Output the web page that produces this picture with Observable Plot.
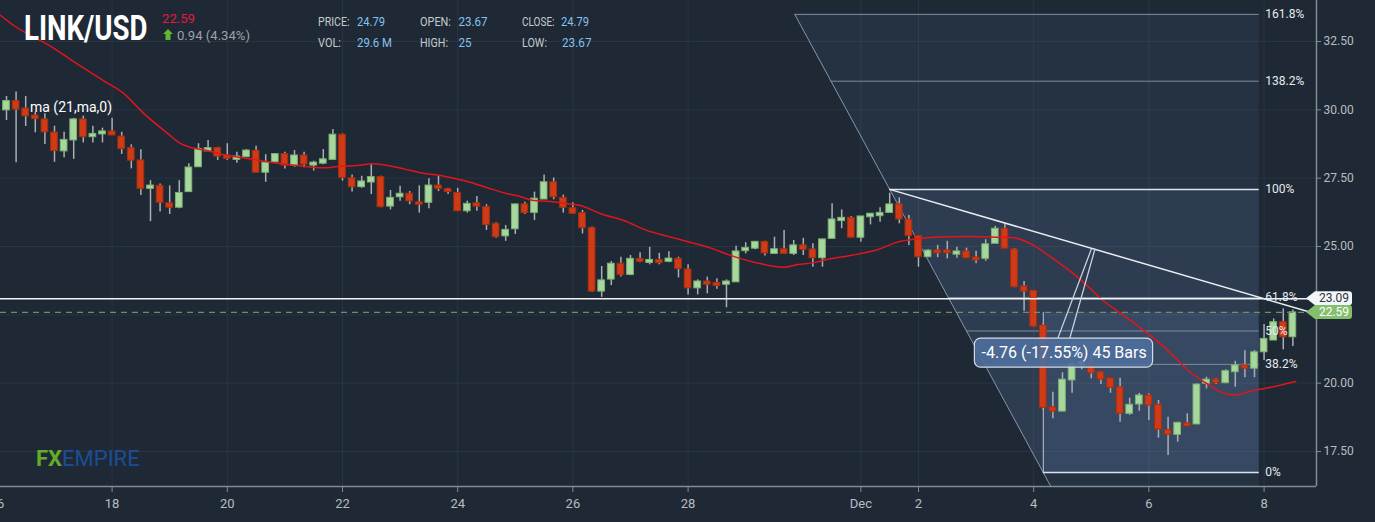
<!DOCTYPE html>
<html>
<head>
<meta charset="utf-8">
<script src="https://cdn.jsdelivr.net/npm/d3@7"></script>
<script src="https://cdn.jsdelivr.net/npm/@observablehq/plot@0.6"></script>
<style>
  html, body { margin:0; padding:0; background:#1e2935; }
  #chart { width:1375px; height:522px; overflow:hidden; }
  svg { display:block; }
</style>
</head>
<body>
<div id="chart"></div>
<script>
// ---------- DATA (4-hour candles, LINK/USD) ----------
const firstBarUTC = Date.UTC(2021, 10, 16, 4); // Nov 16, 04:00
const barHours = 4;

const opens = [29.98,30.32,30.05,29.79,29.65,29.17,28.48,28.88,29.65,29.00,
29.10,29.21,29.02,28.60,28.15,27.11,27.22,26.58,26.42,26.99,
27.90,28.48,28.60,28.33,28.17,28.27,28.50,27.70,28.08,28.38,
27.96,28.33,27.96,28.03,28.17,29.09,27.50,27.17,27.34,27.54,
26.46,26.80,26.93,26.62,26.60,27.23,27.10,26.96,26.29,26.58,
26.44,25.83,25.37,25.63,26.54,26.23,26.72,27.35,26.78,26.40,
26.22,25.68,23.35,23.79,24.37,23.96,24.55,24.40,24.51,24.44,
24.55,24.16,23.47,23.72,23.67,23.60,23.69,24.83,24.92,25.17,
24.73,24.90,24.73,25.04,24.89,24.57,25.28,25.93,26.05,25.32,
26.07,26.11,26.23,26.54,25.98,25.38,24.61,24.86,24.86,24.70,
24.82,24.60,24.55,25.10,25.65,24.89,23.54,23.38,22.11,19.12,
18.96,20.10,20.65,20.74,20.40,20.18,19.85,18.88,19.22,19.55,
19.21,18.29,18.11,18.53,18.49,19.98,20.13,20.00,20.40,20.65,
20.53,21.13,21.56,22.23,21.68];
const highs = [30.49,30.65,30.49,29.91,29.86,29.40,29.18,29.69,29.77,29.40,
29.33,29.69,29.18,28.72,28.54,27.41,27.29,27.22,27.41,28.03,
28.76,28.88,28.63,28.76,28.45,28.55,28.67,28.36,28.40,28.45,
28.51,28.45,28.12,28.55,29.28,29.12,27.62,27.57,27.99,27.57,
27.05,27.20,27.01,27.22,27.48,27.57,27.13,27.13,26.66,26.83,
26.53,25.87,25.77,26.56,26.62,26.99,27.62,27.51,26.88,26.60,
26.32,25.71,24.27,24.45,24.61,24.67,24.77,24.97,24.75,24.81,
24.61,24.33,23.78,23.88,23.82,23.78,25.01,25.14,25.19,25.19,
25.34,25.59,25.22,25.30,25.10,25.26,26.56,26.34,26.10,26.10,
26.20,26.42,26.95,26.78,26.13,25.40,24.89,25.04,25.19,24.97,
24.94,24.83,25.25,25.74,25.83,24.92,23.72,23.38,22.18,19.67,
20.38,20.77,20.83,20.98,20.43,20.18,20.18,19.45,19.63,19.61,
19.37,18.75,18.57,18.88,19.98,20.22,20.16,20.49,20.80,21.19,
21.19,22.15,22.35,22.72,22.68];
const lows = [29.61,28.06,29.39,29.16,28.73,28.08,28.25,28.19,28.79,28.79,
28.79,29.06,28.37,27.84,26.87,25.91,26.26,26.17,26.38,26.99,
27.90,28.48,28.15,28.15,28.05,28.25,27.70,27.35,28.06,27.84,
27.90,27.88,27.76,27.99,28.17,27.39,26.99,27.13,26.90,26.42,
26.34,26.66,26.53,26.22,26.38,27.01,26.90,26.28,26.22,26.29,
25.59,25.30,25.19,25.44,26.17,25.95,26.72,26.71,26.22,26.17,
25.46,23.32,23.14,23.57,23.88,23.93,24.41,24.33,24.33,24.41,
23.85,23.23,23.23,23.27,23.44,22.76,23.69,24.73,24.88,24.65,
24.73,24.73,24.67,24.67,24.24,24.24,25.28,25.65,25.32,25.16,
25.79,25.89,26.23,25.83,25.04,24.24,24.59,24.59,24.55,24.57,
24.57,24.37,24.46,25.10,24.92,23.49,22.63,22.05,19.00,18.70,
18.96,19.63,20.49,20.16,19.95,19.63,18.57,18.82,18.97,18.63,
17.99,17.35,17.84,18.42,18.49,19.79,19.95,19.98,19.85,20.20,
20.20,20.83,21.56,21.22,21.34];
const closes = [30.32,30.01,29.76,29.66,29.18,28.49,28.90,29.65,29.00,29.12,
29.21,29.06,28.57,28.14,27.11,27.23,26.60,26.42,26.96,27.89,
28.57,28.60,28.29,28.21,28.29,28.51,27.70,28.07,28.38,27.96,
28.33,28.00,28.07,28.19,29.09,27.51,27.17,27.38,27.54,26.44,
26.78,26.93,26.65,26.53,27.23,27.11,26.99,26.29,26.56,26.46,
25.79,25.34,25.61,26.54,26.22,26.75,27.35,26.80,26.42,26.20,
25.67,23.35,23.76,24.37,23.96,24.55,24.44,24.51,24.39,24.56,
24.18,23.47,23.72,23.60,23.56,23.72,24.82,24.95,25.17,24.75,
24.90,24.73,25.04,24.88,24.57,25.26,25.99,26.05,25.32,26.10,
26.20,26.23,26.54,25.99,25.38,24.61,24.85,24.75,24.75,24.82,
24.57,24.49,25.08,25.65,24.92,23.51,23.35,22.07,19.10,18.96,
20.13,20.71,20.77,20.36,20.13,19.83,18.88,19.21,19.55,19.18,
18.30,18.11,18.55,18.42,19.95,20.13,20.00,20.44,20.65,20.53,
21.13,21.62,22.23,21.68,22.59];

// 21-period moving average (bar position, value)
const maBars = [-0.6,0.5,4.9,6.8,10.1,12.2,14.3,16.8,18.1,19.2,20.9,23.0,24.4,26.8,30.3,33.0,34.8,36.5,38.1,39.7,
41.4,43.1,45.2,48.3,50.4,52.2,53.5,54.9,56.7,58.1,59.8,61.9,64.3,66.7,68.8,70.9,73.3,75.8,78.2,81.0,
82.4,84.1,85.8,87.9,90.7,92.8,94.9,96.6,100.1,103.5,104.9,107.0,108.8,110.5,112.2,114.0,117.1,120.6,123.3,125.4,
126.8,128.0,129.6,131.7,134.3];
const maValues = [33.45,33.15,32.26,31.81,31.07,30.60,29.87,29.13,28.77,28.62,28.51,28.33,28.26,28.12,27.96,27.88,27.94,27.96,28.03,27.96,
27.84,27.70,27.60,27.35,27.11,26.93,26.83,26.68,26.65,26.58,26.50,26.20,25.95,25.59,25.38,25.18,24.95,24.63,24.40,24.24,
24.34,24.41,24.55,24.67,24.88,25.16,25.28,25.34,25.37,25.34,25.32,25.04,24.61,24.18,23.69,23.09,22.29,21.32,20.40,19.91,
19.63,19.57,19.71,19.85,20.06];

// axis ticks
const xTickDates = ["2021-11-16","2021-11-18","2021-11-20","2021-11-22","2021-11-24","2021-11-26","2021-11-28",
                    "2021-12-01","2021-12-02","2021-12-04","2021-12-06","2021-12-08"];
const yTickValues = [17.5, 20, 25, 27.5, 30, 32.5];
const yGridValues = [17.5, 20, 22.5, 25, 27.5, 30, 32.5];

// Fibonacci drawing (anchors)
const fibHighDate = "2021-12-01T12:00:00Z";
const fibHighPrice = 27.09;
const fibLowDate = "2021-12-04T04:00:00Z";
const fibLowPrice = 16.73;
const fibEndDate = "2021-12-07T22:00:00Z";
const fibRatios = [1.618, 1.382, 1, 0.618, 0.5, 0.382, 0];
const fibLabels = ["161.8%", "138.2%", "100%", "61.8%", "50%", "38.2%", "0%"];

// horizontal lines / price tags
const levelPrice = 23.09;
const lastPrice = 22.59;
const trendEndPrice = 22.53;

// measurement callout
const measureText = "-4.76 (-17.55%) 45 Bars";
const measureBox = {x1: "2021-12-02T23:30:00Z", x2: "2021-12-06T01:45:00Z", y1: 20.57, y2: 21.63};
const measureTextPos = {x: "2021-12-04T12:40:00Z", y: 21.12};
const measureTail = [
  [{x: "2021-12-04T10:00:00Z", y: 21.63}, {x: "2021-12-05T00:00:00Z", y: 24.90}],
  [{x: "2021-12-04T15:00:00Z", y: 21.63}, {x: "2021-12-05T01:30:00Z", y: 24.90}]
];

// ---------- BUILD ----------
const HOUR = 3600e3;
const barDate = i => new Date(firstBarUTC + i * barHours * HOUR);
const xDomain = [barDate(-0.625), barDate(136.46)];
const yDomain = [16.22, 34.0];

const bars = opens.map((o, i) => ({
  date: barDate(i), open: o, high: highs[i], low: lows[i], close: closes[i], up: closes[i] >= o
}));
const halfBody = 1.4 * HOUR;
const maData = maBars.map((b, i) => ({date: barDate(b), value: maValues[i]}));

const tA = new Date(fibHighDate), tB = new Date(fibLowDate), tEnd = new Date(fibEndDate);
const fibRange = fibHighPrice - fibLowPrice;
const diagDate = p => new Date(+tA + (fibHighPrice - p) / fibRange * (tB - tA));
const fibRows = fibRatios.map((r, i) => ({ratio: r, label: fibLabels[i], price: fibLowPrice + r * fibRange}));
const pTop = fibRows[0].price;

const region1 = [
  {x: diagDate(pTop), y1: pTop, y2: pTop},
  {x: diagDate(yDomain[0]), y1: yDomain[0], y2: pTop},
  {x: tEnd, y1: yDomain[0], y2: pTop}
];
const region2 = [
  {x: tA, y1: fibHighPrice, y2: fibHighPrice},
  {x: tB, y1: fibLowPrice, y2: fibHighPrice},
  {x: tEnd, y1: fibLowPrice, y2: fibHighPrice}
];
const diagLine = [{x: diagDate(pTop), y: pTop}, {x: diagDate(yDomain[0]), y: yDomain[0]}];
const trendLine = [{x: tA, y: fibHighPrice}, {x: xDomain[1], y: trendEndPrice}];

const GREEN = "#a7d79c", GREEN_S = "#7cb36f", RED = "#cf3b17", RED_S = "#a92d0d";
const AX = "#858b93", TXT = "#b9bdc2";

const plot = Plot.plot({
  width: 1375, height: 522,
  marginTop: 0, marginLeft: 0, marginRight: 59, marginBottom: 36,
  style: {background: "#1e2935", fontFamily: "Roboto, sans-serif", fontSize: "12px", overflow: "visible"},
  x: {type: "utc", domain: xDomain},
  y: {domain: yDomain},
  marks: [
    Plot.gridX({ticks: xTickDates.map(d => new Date(d)), stroke: "#283542", strokeOpacity: 1}),
    Plot.gridY({ticks: yGridValues, stroke: "#283542", strokeOpacity: 1}),
    // fib shading
    Plot.areaY(region1, {x: "x", y1: "y1", y2: "y2", fill: "#6a8cbc", fillOpacity: 0.10}),
    Plot.areaY(region2, {x: "x", y1: "y1", y2: "y2", fill: "#6a8cbc", fillOpacity: 0.12}),
    Plot.rect([{x1: tB, x2: tEnd, y1: fibLowPrice, y2: lastPrice}], {x1: "x1", x2: "x2", y1: "y1", y2: "y2", fill: "#7a9ccc", fillOpacity: 0.14}),
    Plot.line(diagLine, {x: "x", y: "y", stroke: "#8595a8", strokeWidth: 1}),
    Plot.ruleY(fibRows, {y: "price", x1: d => diagDate(d.price), x2: tEnd,
      stroke: d => (d.ratio === 1 || d.ratio === 0) ? "#dce3eb" : "#7d8ca0", strokeWidth: d => (d.ratio === 1 || d.ratio === 0) ? 1.5 : 1}),
    Plot.ruleX([tB], {y1: fibLowPrice, y2: lastPrice, stroke: "#b9c6d6", strokeWidth: 1}),
    // candles
    Plot.ruleX(bars, {x: "date", y1: "low", y2: "high", stroke: "#a9aeb4", strokeWidth: 1.5}),
    Plot.rect(bars, {
      x1: d => new Date(+d.date - halfBody), x2: d => new Date(+d.date + halfBody),
      y1: d => Math.min(d.open, d.close), y2: d => Math.max(d.open, d.close),
      fill: d => d.up ? GREEN : RED, stroke: d => d.up ? GREEN_S : RED_S, strokeWidth: 1
    }),
    // moving average
    Plot.line(maData, {x: "date", y: "value", stroke: "#e3141b", strokeWidth: 1.5, curve: "monotone-x"}),
    // horizontal lines
    Plot.ruleY([levelPrice], {stroke: "#f2f4f6", strokeWidth: 1.5}),
    Plot.ruleY([lastPrice], {stroke: "#6e8f6c", strokeWidth: 1.3, strokeDasharray: "6,5"}),
    // trend line
    Plot.line(trendLine, {x: "x", y: "y", stroke: "#e9edf1", strokeWidth: 1.5}),
    // measurement callout
    ...measureTail.map(seg => Plot.line(seg.map(p => ({x: new Date(p.x), y: p.y})), {x: "x", y: "y", stroke: "#c7d3e2", strokeWidth: 1.3})),
    Plot.rect([measureBox], {x1: d => new Date(d.x1), x2: d => new Date(d.x2), y1: "y1", y2: "y2",
      fill: "#4f6e9c", fillOpacity: 0.9, stroke: "#d3dbe6", strokeWidth: 1.2, rx: 6}),
    Plot.text([measureTextPos], {x: d => new Date(d.x), y: "y", text: () => measureText, fill: "#ffffff", fontSize: 16}),
    // fib labels
    Plot.text(fibRows, {x: tEnd, y: "price", text: "label", textAnchor: "start", dx: 6, fill: "#e8ebee", fontSize: 12}),
    // axes
    Plot.ruleY([yDomain[0]], {stroke: AX, strokeWidth: 1.5}),
    Plot.ruleX([xDomain[1]], {stroke: AX, strokeWidth: 1.5}),
    Plot.axisY({anchor: "right", ticks: yTickValues, tickFormat: d => d.toFixed(2), tickSize: 4, tickPadding: 3,
      fill: TXT, stroke: AX, fontSize: 12, label: null}),
    Plot.axisX({anchor: "bottom", ticks: xTickDates.map(d => new Date(d)),
      tickFormat: d => (d.getUTCMonth() === 11 && d.getUTCDate() === 1) ? "Dec" : String(d.getUTCDate()),
      tickSize: 6, tickPadding: 6, fill: TXT, stroke: AX, fontSize: 13, label: null})
  ]
});
document.getElementById("chart").append(plot);

// ---------- overlays using the plot's scales ----------
const svg = d3.select(plot);
const yS = plot.scale("y");
const axisX0 = 1375 - 59;

function tag(price, fill, textFill) {
  const y = yS.apply(price);
  const g = svg.append("g");
  g.append("path")
    .attr("d", `M${axisX0 - 10},${y} L${axisX0 - 1},${y - 7} H${axisX0 + 33} a3,3 0 0 1 3,3 V${y + 4} a3,3 0 0 1 -3,3 H${axisX0 - 1} Z`)
    .attr("fill", fill);
  g.append("text").attr("x", axisX0 + 18).attr("y", y).attr("dy", "0.35em")
    .attr("text-anchor", "middle").attr("fill", textFill)
    .attr("font-family", "Roboto, sans-serif").attr("font-size", 12).text(price.toFixed(2));
}
tag(levelPrice, "#f4f5f6", "#2a3644");
tag(lastPrice, "#84bf6e", "#ffffff");

// header
const hdr = svg.append("g").attr("font-family", "Roboto, sans-serif").attr("text-anchor", "start");
function t(x, y, s, opts) {
  const el = hdr.append("text").attr("x", x).attr("y", y).text(s)
    .attr("text-anchor", "start")
    .attr("fill", opts.fill).attr("font-size", opts.size).attr("font-weight", opts.weight || 400);
  if (opts.len) el.attr("textLength", opts.len).attr("lengthAdjust", "spacingAndGlyphs");
  return el;
}
// title: condensed via a horizontal scale so its box is the drawn width
hdr.append("text").attr("transform", "translate(24,40) scale(0.79,1)")
  .attr("text-anchor", "start").attr("fill", "#ffffff").attr("font-size", 35).attr("font-weight", 700)
  .text("LINK/USD");
t(162, 23, "22.59", {fill: "#e5183b", size: 12.5, len: 33});
hdr.append("path").attr("d", "M168,29 L173,34 H170.5 V40 H165.5 V34 H163 Z").attr("fill", "#5fb832");
t(177, 40, "0.94 (4.34%)", {fill: "#9da2a8", size: 12.5, len: 73});
const lab = "#c6cbd0", val = "#86c2ee";
t(318, 26, "PRICE:", {fill: lab, size: 12.5, len: 31.5});
t(357, 26, "24.79", {fill: val, size: 12.5, len: 28});
t(420, 26, "OPEN:", {fill: lab, size: 12.5, len: 31});
t(458.5, 26, "23.67", {fill: val, size: 12.5, len: 29});
t(522, 26, "CLOSE:", {fill: lab, size: 12.5, len: 32.5});
t(561, 26, "24.79", {fill: val, size: 12.5, len: 28});
t(318, 47, "VOL:", {fill: lab, size: 12.5, len: 23});
t(357, 47, "29.6 M", {fill: val, size: 12.5, len: 35});
t(420, 47, "HIGH:", {fill: lab, size: 12.5, len: 28});
t(458.5, 47, "25", {fill: val, size: 12.5, len: 13});
t(522, 47, "LOW:", {fill: lab, size: 12.5, len: 25});
t(562, 47, "23.67", {fill: val, size: 12.5, len: 29.5});
t(30, 112, "ma (21,ma,0)", {fill: "#ffffff", size: 14});
const logo = hdr.append("text").attr("x", 36).attr("y", 466).attr("font-size", 22).attr("text-anchor", "start");
logo.append("tspan").attr("fill", "#63ab2a").attr("font-weight", 700).text("FX");
logo.append("tspan").attr("fill", "#1c4d93").text("EMPIRE");
</script>
</body>
</html>
